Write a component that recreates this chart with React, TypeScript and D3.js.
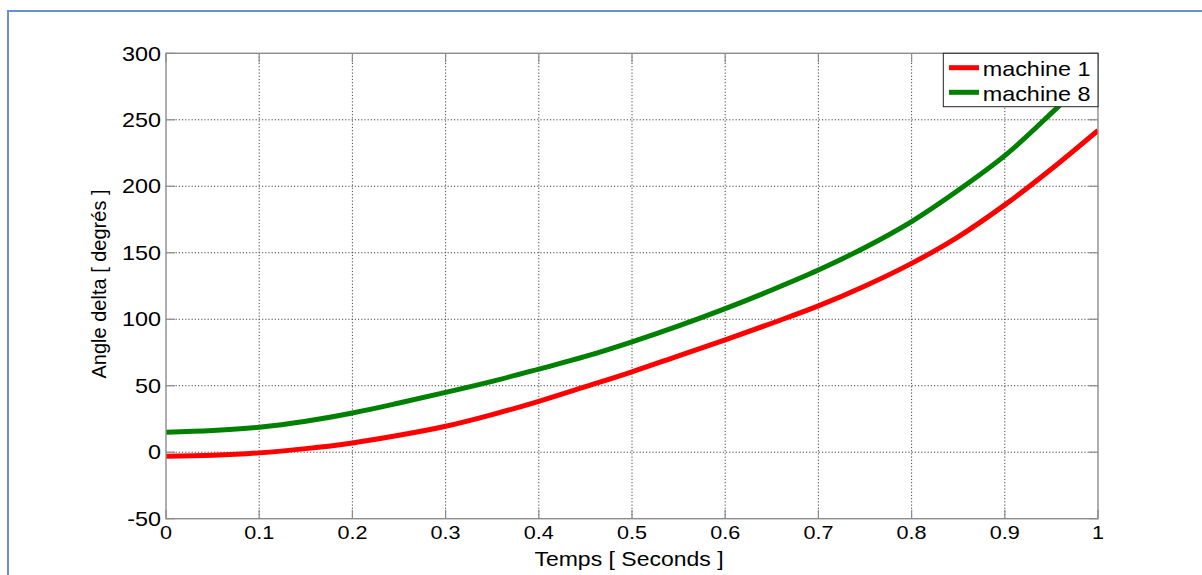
import React from "react";
import * as d3 from "d3";

// Rotor angle trajectories (degrees) sampled every 0.05 s
const time = [0, 0.05, 0.1, 0.15, 0.2, 0.25, 0.3, 0.35, 0.4, 0.45, 0.5, 0.55, 0.6, 0.65, 0.7, 0.75, 0.8, 0.85, 0.9, 0.95, 1.0];
const machine1 = [-3, -2.3, -0.5, 2.7, 7, 12.7, 19.5, 28.3, 38.3, 49.3, 60.5, 72.5, 84.5, 97, 110, 125, 142, 162, 186, 213, 242];
const machine8 = [15, 16.3, 18.8, 23.3, 29.5, 37, 45, 53.3, 62.5, 72, 83, 95, 108, 122, 137, 154, 173.5, 197, 223, 255, 289];

const xTicks = [0, 0.1, 0.2, 0.3, 0.4, 0.5, 0.6, 0.7, 0.8, 0.9, 1];
const yTicks = [-50, 0, 50, 100, 150, 200, 250, 300];

const seriesNames = ["machine 1", "machine 8"];
const seriesColors = ["#ff0000", "#008000"];

const W = 1202;
const H = 575;
const plot = { left: 166, right: 1098, top: 53.3, bottom: 518.7 };
const FONT = "Arial, 'Liberation Sans', Helvetica, sans-serif";

const StretchText = ({ x, y, size, sx, anchor = "start", children, rotate = 0 }: any) => (
  <text
    transform={`translate(${x},${y}) rotate(${rotate}) scale(${sx},1)`}
    fontSize={size}
    fontFamily={FONT}
    textAnchor={anchor}
    fill="#000"
  >
    {children}
  </text>
);

export default function App() {
  const x = d3.scaleLinear().domain([0, 1]).range([plot.left, plot.right]);
  const y = d3.scaleLinear().domain([-50, 300]).range([plot.bottom, plot.top]);

  const line = d3
    .line<[number, number]>()
    .x((d) => x(d[0]))
    .y((d) => y(d[1]))
    .curve(d3.curveCatmullRom.alpha(0.5));

  const series = [machine1, machine8].map((vals) => time.map((t, i) => [t, vals[i]] as [number, number]));

  const axisColor = "#8c8c8c";
  const gridColor = "#444";
  const tickLen = 9;

  return (
    <div style={{ position: "fixed", left: 0, top: 0, width: W, height: H, background: "#fff" }}>
      <svg width={W} height={H} style={{ display: "block" }}>
        <rect x={0} y={0} width={W} height={H} fill="#fff" />
        {/* outer frame */}
        <rect x={8} y={11} width={1400} height={800} fill="none" stroke="#6890cf" strokeWidth={2} />

        <defs>
          <clipPath id="plotClip">
            <rect x={plot.left} y={plot.top} width={plot.right - plot.left} height={plot.bottom - plot.top} />
          </clipPath>
        </defs>

        {/* grid */}
        <g stroke={gridColor} strokeWidth={1} strokeDasharray="1.2 2">
          {xTicks.slice(1, -1).map((t) => (
            <line key={`gx${t}`} x1={x(t)} x2={x(t)} y1={plot.top} y2={plot.bottom} />
          ))}
          {yTicks.slice(1, -1).map((v) => (
            <line key={`gy${v}`} x1={plot.left} x2={plot.right} y1={y(v)} y2={y(v)} />
          ))}
        </g>

        {/* ticks on all four sides */}
        <g stroke={axisColor} strokeWidth={1.2}>
          {xTicks.map((t) => (
            <g key={`tx${t}`}>
              <line x1={x(t)} x2={x(t)} y1={plot.bottom} y2={plot.bottom - tickLen} />
              <line x1={x(t)} x2={x(t)} y1={plot.top} y2={plot.top + tickLen} />
            </g>
          ))}
          {yTicks.map((v) => (
            <g key={`ty${v}`}>
              <line x1={plot.left} x2={plot.left + tickLen} y1={y(v)} y2={y(v)} />
              <line x1={plot.right} x2={plot.right - tickLen} y1={y(v)} y2={y(v)} />
            </g>
          ))}
        </g>

        {/* data */}
        <g clipPath="url(#plotClip)">
          {series.map((s, i) => (
            <path key={i} d={line(s) || ""} fill="none" stroke={seriesColors[i]} strokeWidth={5} strokeLinejoin="round" />
          ))}
        </g>

        {/* axes box */}
        <rect
          x={plot.left}
          y={plot.top}
          width={plot.right - plot.left}
          height={plot.bottom - plot.top}
          fill="none"
          stroke={axisColor}
          strokeWidth={1.4}
        />

        {/* tick labels */}
        {yTicks.map((v) => (
          <StretchText key={`ly${v}`} x={161} y={y(v) + 7.2} size={20} sx={1.17} anchor="end">
            {v}
          </StretchText>
        ))}
        {xTicks.map((t) => (
          <StretchText key={`lx${t}`} x={x(t)} y={538.5} size={18} sx={1.2} anchor="middle">
            {String(t)}
          </StretchText>
        ))}

        {/* axis titles */}
        <StretchText x={629} y={566} size={20} sx={1.15} anchor="middle">
          Temps [ Seconds ]
        </StretchText>
        <StretchText x={106} y={284} size={20} sx={1} anchor="middle" rotate={-90}>
          Angle delta [ degrés ]
        </StretchText>

        {/* legend */}
        <g>
          <rect x={943.3} y={plot.top} width={plot.right - 943.3} height={106.7 - plot.top} fill="#fff" stroke="#222" strokeWidth={1} />
          {seriesNames.map((name, i) => {
            const ly = 67.7 + i * 24.6;
            return (
              <g key={name}>
                <line x1={949} x2={979} y1={ly} y2={ly} stroke={seriesColors[i]} strokeWidth={5} />
                <StretchText x={982.7} y={ly + 8.5} size={20} sx={1.17}>
                  {name}
                </StretchText>
              </g>
            );
          })}
        </g>
      </svg>
    </div>
  );
}
